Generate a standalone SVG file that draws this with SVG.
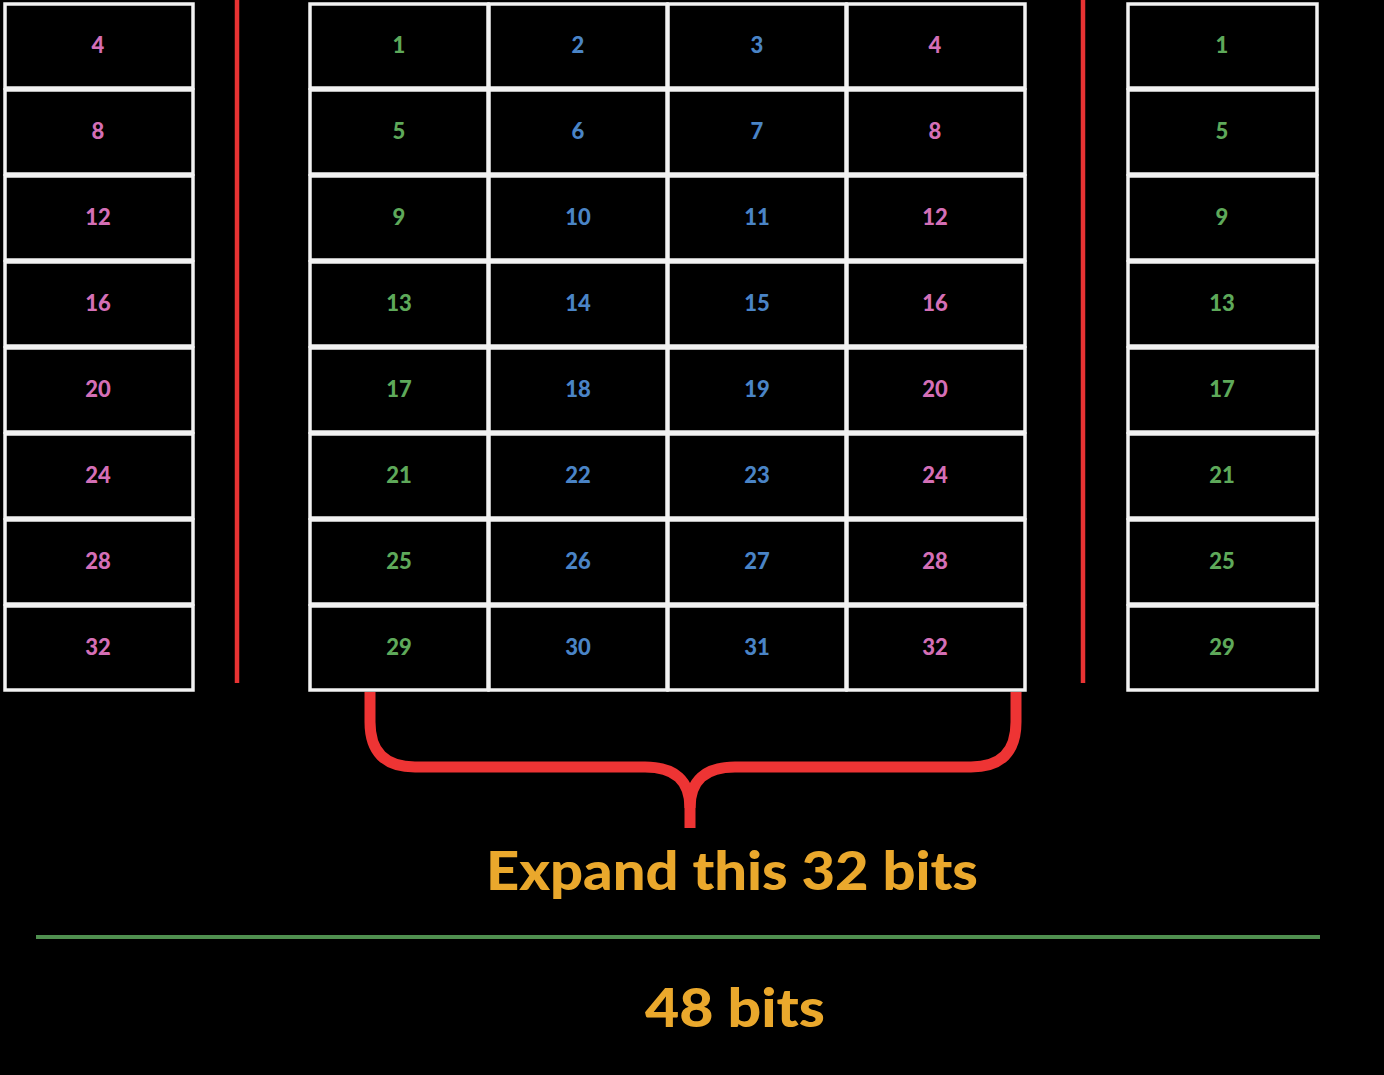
<svg xmlns="http://www.w3.org/2000/svg" width="1384" height="1075" viewBox="0 0 1384 1075">
<style>
.cell{fill:#000;stroke:#f2f2f2;stroke-width:3.5}
.n{font-family:Lato,"Liberation Sans",sans-serif;font-weight:900;font-size:22px;text-anchor:middle}
.p{fill:#d46fb6}
.g{fill:#5ea95a}
.b{fill:#4a84c6}
.red{stroke:#e83333;stroke-width:4.5;fill:none}
.lbl{font-family:Lato,"Liberation Sans",sans-serif;font-weight:900;fill:#eaa82c;text-anchor:middle}
</style>
<rect x="0" y="0" width="1384" height="1075" fill="#000"/>
<g id="left-column">
<rect class="cell" x="5" y="4" width="188" height="84"/><text class="n p" x="98" y="53">4</text>
<rect class="cell" x="5" y="90" width="188" height="84"/><text class="n p" x="98" y="139">8</text>
<rect class="cell" x="5" y="176" width="188" height="84"/><text class="n p" x="98" y="225">12</text>
<rect class="cell" x="5" y="262" width="188" height="84"/><text class="n p" x="98" y="311">16</text>
<rect class="cell" x="5" y="348" width="188" height="84"/><text class="n p" x="98" y="397">20</text>
<rect class="cell" x="5" y="434" width="188" height="84"/><text class="n p" x="98" y="483">24</text>
<rect class="cell" x="5" y="520" width="188" height="84"/><text class="n p" x="98" y="569">28</text>
<rect class="cell" x="5" y="606" width="188" height="84"/><text class="n p" x="98" y="655">32</text>
</g>
<g id="middle-grid">
<rect class="cell" x="310" y="4" width="178" height="84"/><text class="n g" x="399" y="53">1</text>
<rect class="cell" x="489" y="4" width="178" height="84"/><text class="n b" x="578" y="53">2</text>
<rect class="cell" x="668" y="4" width="178" height="84"/><text class="n b" x="757" y="53">3</text>
<rect class="cell" x="847" y="4" width="178" height="84"/><text class="n p" x="935" y="53">4</text>
<rect class="cell" x="310" y="90" width="178" height="84"/><text class="n g" x="399" y="139">5</text>
<rect class="cell" x="489" y="90" width="178" height="84"/><text class="n b" x="578" y="139">6</text>
<rect class="cell" x="668" y="90" width="178" height="84"/><text class="n b" x="757" y="139">7</text>
<rect class="cell" x="847" y="90" width="178" height="84"/><text class="n p" x="935" y="139">8</text>
<rect class="cell" x="310" y="176" width="178" height="84"/><text class="n g" x="399" y="225">9</text>
<rect class="cell" x="489" y="176" width="178" height="84"/><text class="n b" x="578" y="225">10</text>
<rect class="cell" x="668" y="176" width="178" height="84"/><text class="n b" x="757" y="225">11</text>
<rect class="cell" x="847" y="176" width="178" height="84"/><text class="n p" x="935" y="225">12</text>
<rect class="cell" x="310" y="262" width="178" height="84"/><text class="n g" x="399" y="311">13</text>
<rect class="cell" x="489" y="262" width="178" height="84"/><text class="n b" x="578" y="311">14</text>
<rect class="cell" x="668" y="262" width="178" height="84"/><text class="n b" x="757" y="311">15</text>
<rect class="cell" x="847" y="262" width="178" height="84"/><text class="n p" x="935" y="311">16</text>
<rect class="cell" x="310" y="348" width="178" height="84"/><text class="n g" x="399" y="397">17</text>
<rect class="cell" x="489" y="348" width="178" height="84"/><text class="n b" x="578" y="397">18</text>
<rect class="cell" x="668" y="348" width="178" height="84"/><text class="n b" x="757" y="397">19</text>
<rect class="cell" x="847" y="348" width="178" height="84"/><text class="n p" x="935" y="397">20</text>
<rect class="cell" x="310" y="434" width="178" height="84"/><text class="n g" x="399" y="483">21</text>
<rect class="cell" x="489" y="434" width="178" height="84"/><text class="n b" x="578" y="483">22</text>
<rect class="cell" x="668" y="434" width="178" height="84"/><text class="n b" x="757" y="483">23</text>
<rect class="cell" x="847" y="434" width="178" height="84"/><text class="n p" x="935" y="483">24</text>
<rect class="cell" x="310" y="520" width="178" height="84"/><text class="n g" x="399" y="569">25</text>
<rect class="cell" x="489" y="520" width="178" height="84"/><text class="n b" x="578" y="569">26</text>
<rect class="cell" x="668" y="520" width="178" height="84"/><text class="n b" x="757" y="569">27</text>
<rect class="cell" x="847" y="520" width="178" height="84"/><text class="n p" x="935" y="569">28</text>
<rect class="cell" x="310" y="606" width="178" height="84"/><text class="n g" x="399" y="655">29</text>
<rect class="cell" x="489" y="606" width="178" height="84"/><text class="n b" x="578" y="655">30</text>
<rect class="cell" x="668" y="606" width="178" height="84"/><text class="n b" x="757" y="655">31</text>
<rect class="cell" x="847" y="606" width="178" height="84"/><text class="n p" x="935" y="655">32</text>
</g>
<g id="right-column">
<rect class="cell" x="1128" y="4" width="189" height="84"/><text class="n g" x="1222" y="53">1</text>
<rect class="cell" x="1128" y="90" width="189" height="84"/><text class="n g" x="1222" y="139">5</text>
<rect class="cell" x="1128" y="176" width="189" height="84"/><text class="n g" x="1222" y="225">9</text>
<rect class="cell" x="1128" y="262" width="189" height="84"/><text class="n g" x="1222" y="311">13</text>
<rect class="cell" x="1128" y="348" width="189" height="84"/><text class="n g" x="1222" y="397">17</text>
<rect class="cell" x="1128" y="434" width="189" height="84"/><text class="n g" x="1222" y="483">21</text>
<rect class="cell" x="1128" y="520" width="189" height="84"/><text class="n g" x="1222" y="569">25</text>
<rect class="cell" x="1128" y="606" width="189" height="84"/><text class="n g" x="1222" y="655">29</text>
</g>
<g id="connectors">
<line class="red" x1="237" y1="0" x2="237" y2="683"/>
<line class="red" x1="1083" y1="0" x2="1083" y2="683"/>
<path d="M370 692 L370 722 Q370 767 415 767 L645 767 Q690 767 690 808 L690 828" fill="none" stroke="#ee3434" stroke-width="11"/>
<path d="M1016 692 L1016 722 Q1016 767 971 767 L735 767 Q690 767 690 808" fill="none" stroke="#ee3434" stroke-width="11"/>
<line x1="36" y1="937" x2="1320" y2="937" stroke="#4f8f4f" stroke-width="4"/>
</g>
<g id="labels">
<text class="lbl" x="732" y="890" font-size="54" textLength="492" lengthAdjust="spacingAndGlyphs">Expand this 32 bits</text>
<text class="lbl" x="735" y="1027" font-size="54" textLength="180" lengthAdjust="spacingAndGlyphs">48 bits</text>
</g>
</svg>
